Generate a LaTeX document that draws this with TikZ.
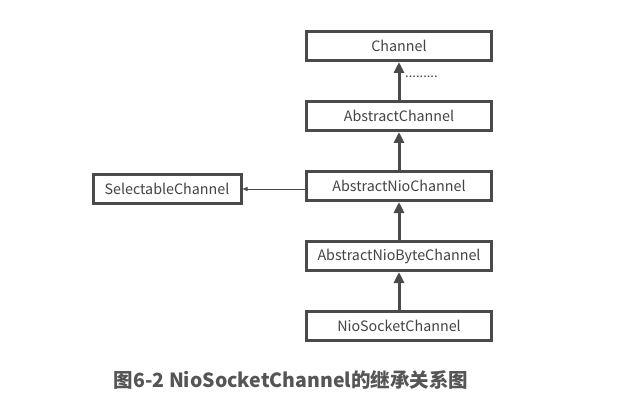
\documentclass[tikz,border=0pt]{standalone}
\usepackage{fontspec}
\setmainfont{Noto Sans CJK SC}
\usetikzlibrary{arrows.meta,positioning}

\definecolor{boxgray}{HTML}{4A4A4A}
\definecolor{textgray}{HTML}{444444}
\definecolor{capgray}{HTML}{555555}

\begin{document}
\begin{tikzpicture}[x=1pt,y=-1pt,
                    every node/.style={inner sep=2pt},
                    cls/.style={draw=boxgray, line width=3pt, fill=white,
                                minimum width=185pt, minimum height=29pt,
                                font=\fontsize{14.3}{16}\selectfont, text=textgray},
                    inherit/.style={draw=boxgray, line width=3pt,
                                    -{Triangle[length=11pt,width=10pt]}},
                    impl/.style={draw=boxgray, line width=0.8pt,
                                 -{Triangle[length=5pt,width=4pt]}}]
\useasboundingbox (0,0) rectangle (625,412);
\node[cls] (channel)  at (399,46)  {Channel};
\node[cls] (abstract) at (399,116) {AbstractChannel};
\node[cls] (nio)      at (399,186) {AbstractNioChannel};
\node[cls] (niobyte)  at (399,256) {AbstractNioByteChannel};
\node[cls] (socket)   at (399,326) {NioSocketChannel};
\node[cls, minimum width=148pt] (selectable) at (167,189) {SelectableChannel};
\node[text=textgray, font=\fontsize{13}{15}\selectfont, anchor=west] (dots)
  at (403,77) {.........};
\node[text=capgray, font=\bfseries\fontsize{19.5}{22}\selectfont] (caption)
  at (291,380) {图6-2 NioSocketChannel的继承关系图};
% inheritance
\draw[inherit] (abstract) -- (channel);
\draw[inherit] (nio) -- (abstract);
\draw[inherit] (niobyte) -- (nio);
\draw[inherit] (socket) -- (niobyte);
\draw[impl] (nio.west) ++(0,3) coordinate (nioleft) -- (nioleft -| selectable.east);
\end{tikzpicture}
\end{document}
